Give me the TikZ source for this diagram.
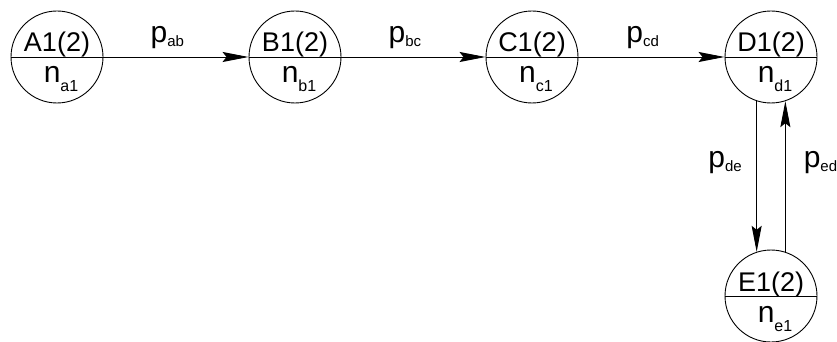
\documentclass[tikz,border=0pt]{standalone}
\usepackage{fontspec}
\setmainfont{Liberation Sans}
\usetikzlibrary{arrows.meta}
\newcommand{\idx}[2][4pt]{\raisebox{-#1}{\fontsize{15}{15}\selectfont #2}}

\begin{document}
\begin{tikzpicture}[x=1pt, y=-1pt, line width=0.9pt,
  state/.style={circle, draw, minimum size=92pt, inner sep=0pt},
  top/.style={anchor=base, font=\fontsize{27}{27}\selectfont},
  bot/.style={anchor=base, font=\fontsize{30}{30}\selectfont},
  plab/.style={anchor=base, font=\fontsize{30}{30}\selectfont},
  arr/.style={-{Stealth[length=26pt, width=10pt, inset=4pt]}}]
\useasboundingbox (0,0) rectangle (837,342);
% states
\node[state] (A) at (57,57) {};
\node[state] (B) at (295,57) {};
\node[state] (C) at (532,57) {};
\node[state] (D) at (771,57) {};
\node[state] (E) at (771,296) {};
\draw (A.west) -- (A.east); \draw (B.west) -- (B.east); \draw (C.west) -- (C.east); \draw (D.west) -- (D.east); \draw (E.west) -- (E.east);
\node[top] (At) at (57,52) {A1(2)};   \node[bot] (An) at (61,83) {n\idx[9pt]{\fontsize{16}{16}\selectfont a1}};
\node[top] (Bt) at (295,52) {B1(2)};  \node[bot] (Bn) at (299,83) {n\idx[9pt]{\fontsize{16}{16}\selectfont b1}};
\node[top] (Ct) at (532,52) {C1(2)};  \node[bot] (Cn) at (536,83) {n\idx[9pt]{\fontsize{16}{16}\selectfont c1}};
\node[top] (Dt) at (771,52) {D1(2)};  \node[bot] (Dn) at (775,83) {n\idx[9pt]{\fontsize{16}{16}\selectfont d1}};
\node[top] (Et) at (771,291) {E1(2)}; \node[bot] (En) at (775,322) {n\idx[9pt]{\fontsize{16}{16}\selectfont e1}};
% transitions
\draw[arr] (A) -- node[plab, pos=.44, yshift=14pt] (pab) {p\idx{ab}} (B);
\draw[arr] (B) -- node[plab, pos=.44, yshift=14pt] (pbc) {p\idx{bc}} (C);
\draw[arr] (C) -- node[plab, pos=.44, yshift=14pt] (pcd) {p\idx{cd}} (D);
\draw[arr] (D.-108) -- (E.108);
\draw[arr] (E.72) -- (D.-72);
\node[plab] (pde) at (725,167) {p\idx{de}};
\node[plab, anchor=base west] (ped) at (800,167) {p\idx{ed}};
\end{tikzpicture}
\end{document}
